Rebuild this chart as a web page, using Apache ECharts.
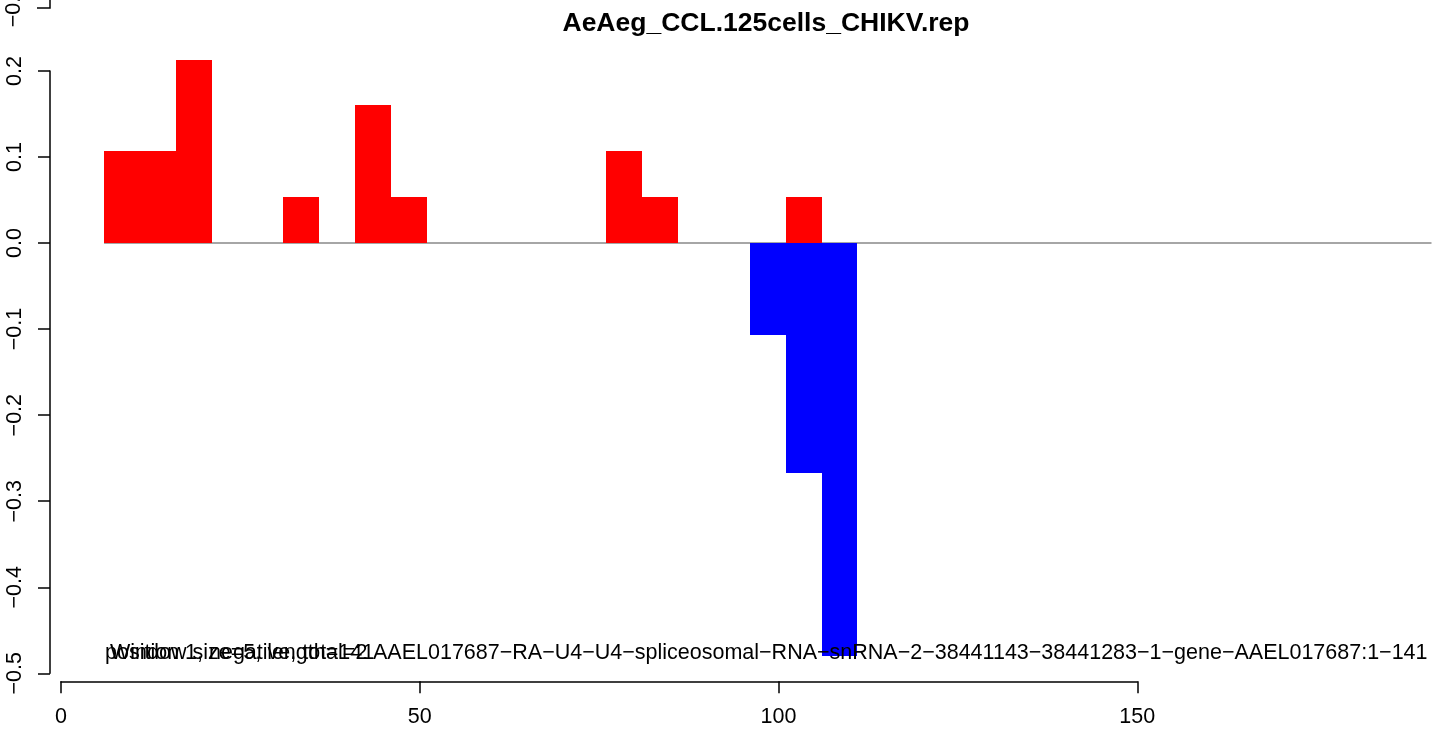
<!DOCTYPE html>
<html>
<head>
<meta charset="utf-8">
<script src="https://cdn.jsdelivr.net/npm/echarts@6/dist/echarts.min.js"></script>
<style>
html,body{margin:0;padding:0;background:#fff;}
#chart{width:1439px;height:729px;}
</style>
</head>
<body>
<div id="chart"></div>
<script>
// ---- data ----
const chartTitle = 'AeAeg_CCL.125cells_CHIKV.rep';
const windowSize = 5;
const posStarts = [6, 11, 16, 31, 41, 46, 76, 81, 101];
const posValues = [0.1067, 0.1067, 0.2133, 0.0533, 0.16, 0.0533, 0.1067, 0.0533, 0.0533];
const negStarts = [96, 101, 106];
const negValues = [-0.1067, -0.2667, -0.48];
const baselineX = [6, 191];
const xTicks = [0, 50, 100, 150];
const yTicks = [-0.5, -0.4, -0.3, -0.2, -0.1, 0.0, 0.1, 0.2];
const infoPosition = 'position 1, negative, total=2';
const infoWindow = 'Window size=5, length=141';
const infoGene = 'AAEL017687\u2212RA\u2212U4\u2212U4\u2212spliceosomal\u2212RNA\u2212snRNA\u22122\u221238441143\u221238441283\u22121\u2212gene\u2212AAEL017687:1\u2212141';

const FONT = '"Liberation Sans", Arial, Helvetica, sans-serif';
const chart = echarts.init(document.getElementById('chart'), null, {renderer: 'canvas'});

function barRenderer(color) {
  return function (params, api) {
    const s = api.value(0), v = api.value(1);
    const p0 = api.coord([s, v]);
    const p1 = api.coord([s + windowSize, 0]);
    const x0 = Math.round(p0[0]), x1 = Math.round(p1[0]);
    const ya = Math.round(p0[1]), yb = Math.round(p1[1]);
    return {
      type: 'rect',
      shape: {x: x0, y: Math.min(ya, yb), width: x1 - x0, height: Math.abs(yb - ya)},
      style: {fill: color, stroke: null}
    };
  };
}

function lineRenderer(params, api) {
  const a = api.coord([api.value(0), 0]);
  const b = api.coord([api.value(1), 0]);
  return {
    type: 'line',
    shape: {x1: a[0], y1: a[1], x2: b[0], y2: b[1]},
    style: {stroke: '#a6a6a6', lineWidth: 2}
  };
}

function fmtY(v) {
  const r = Math.round(v * 10) / 10;
  return (r < 0 ? '\u2212' : '') + Math.abs(r).toFixed(1);
}

const option = {
  animation: false,
  backgroundColor: '#ffffff',
  grid: {left: 61, right: 301.7, top: 71, bottom: 55.7, containLabel: false},
  xAxis: {
    type: 'value', min: xTicks[0], max: xTicks[xTicks.length - 1], interval: 50,
    offset: 8,
    axisLine: {show: true, onZero: false, lineStyle: {color: '#000', width: 1.5}},
    axisTick: {show: true, length: 12, lineStyle: {color: '#000', width: 1.5}},
    axisLabel: {show: true, margin: 25, color: '#000', fontSize: 21.5, fontFamily: FONT,
      formatter: v => String(Math.round(v))},
    splitLine: {show: false}
  },
  yAxis: {
    type: 'value', min: yTicks[0], max: yTicks[yTicks.length - 1], interval: 0.1,
    offset: 11,
    axisLine: {show: true, onZero: false, lineStyle: {color: '#000', width: 1.5}},
    axisTick: {show: true, length: 12, lineStyle: {color: '#000', width: 1.5}},
    axisLabel: {show: true, rotate: 90, margin: 24, color: '#000', fontSize: 21.5, fontFamily: FONT,
      formatter: fmtY},
    splitLine: {show: false}
  },
  series: [
    {
      type: 'custom', clip: false, silent: true, z: 1,
      renderItem: lineRenderer,
      data: [[baselineX[0], baselineX[1]]]
    },
    {
      type: 'custom', clip: false, z: 2,
      renderItem: barRenderer('#ff0000'),
      data: posStarts.map((s, i) => [s, posValues[i]])
    },
    {
      type: 'custom', clip: false, z: 3,
      renderItem: barRenderer('#0000ff'),
      data: negStarts.map((s, i) => [s, negValues[i]])
    }
  ],
  graphic: [
    {type: 'text', x: 766, y: 24, z: 10,
      style: {text: chartTitle, fill: '#000', font: 'bold 26.5px ' + FONT, textAlign: 'center', textVerticalAlign: 'middle'}},
    {type: 'text', x: 105, y: 653, z: 10,
      style: {text: infoPosition, fill: '#000', font: '21.5px ' + FONT, textAlign: 'left', textVerticalAlign: 'middle'}},
    {type: 'text', x: 110, y: 653, z: 10,
      style: {text: infoWindow, fill: '#000', font: '21.5px ' + FONT, textAlign: 'left', textVerticalAlign: 'middle'}},
    {type: 'text', x: 373, y: 653, z: 10,
      style: {text: infoGene, fill: '#000', font: '21.5px ' + FONT, textAlign: 'left', textVerticalAlign: 'middle'}},
    {type: 'polyline', z: 10, shape: {points: [[50, 0], [50, 8], [37, 8]]},
      style: {stroke: '#000', lineWidth: 1.5, fill: null}},
    {type: 'text', x: 14.5, y: 6, rotation: Math.PI / 2, z: 10,
      style: {text: '\u22120.5', fill: '#000', font: '21.5px ' + FONT, textAlign: 'center', textVerticalAlign: 'middle'}}
  ]
};
chart.setOption(option);
</script>
</body>
</html>
